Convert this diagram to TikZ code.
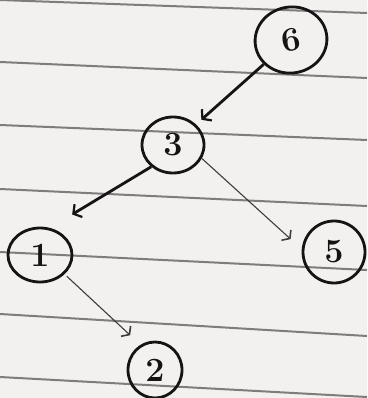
\documentclass[tikz,border=0pt]{standalone}
\usetikzlibrary{shapes.geometric,arrows.meta}
\definecolor{paper}{HTML}{F3F1EF}
\definecolor{rule}{HTML}{7E7C7C}
\definecolor{ink}{HTML}{141414}
\definecolor{thinink}{HTML}{3C3C3C}
\begin{document}
\begin{tikzpicture}[x=1pt,y=-1pt,
  vert/.style={ellipse,draw=ink,line width=2.8pt,inner sep=0pt,
    font=\fontsize{34}{34}\selectfont\bfseries,text=ink},
  thickedge/.style={draw=ink,line width=2.8pt,
    -{Straight Barb[length=6pt,width=15pt,line width=2.2pt]}},
  thinedge/.style={draw=thinink,line width=1.1pt,
    -{Straight Barb[length=5pt,width=14pt,line width=1.6pt]}},
  ruled/.style={draw=rule,line width=2pt}]
\fill[paper] (0,0) rectangle (367,398);
\useasboundingbox (0,0) rectangle (367,398);
% ruled lines of the paper
\draw[ruled] (0,0) -- (367,13);
\draw[ruled] (0,62) -- (367,78);
\draw[ruled] (0,125) -- (367,140);
\draw[ruled] (0,189) -- (367,206);
\draw[ruled] (0,252) -- (367,270);
\draw[ruled] (0,314) -- (367,336);
\draw[ruled] (0,377) -- (367,397);
% nodes
\node[vert,minimum width=72pt,minimum height=66pt,rotate=10] (n6) at (291,40) {6};
\node[vert,minimum width=62pt,minimum height=56pt] (n3) at (173,145) {3};
\node[vert,minimum width=64pt,minimum height=54pt] (n1) at (40,255) {1};
\node[vert,minimum width=62pt,minimum height=62pt] (n5) at (334,252) {5};
\node[vert,minimum width=54pt,minimum height=56pt] (n2) at (155,370) {2};
% edges
\draw[thickedge,shorten >=7pt] (n6) -- (n3);
\draw[thickedge,shorten >=26pt] (n3.225) -- (n1.70);
\draw[thinedge,shorten >=15pt] (n3.335) -- (n5.175);
\draw[thinedge,shorten <=3pt,shorten >=14pt] (n1.322) -- (n2.120);
\end{tikzpicture}
\end{document}
